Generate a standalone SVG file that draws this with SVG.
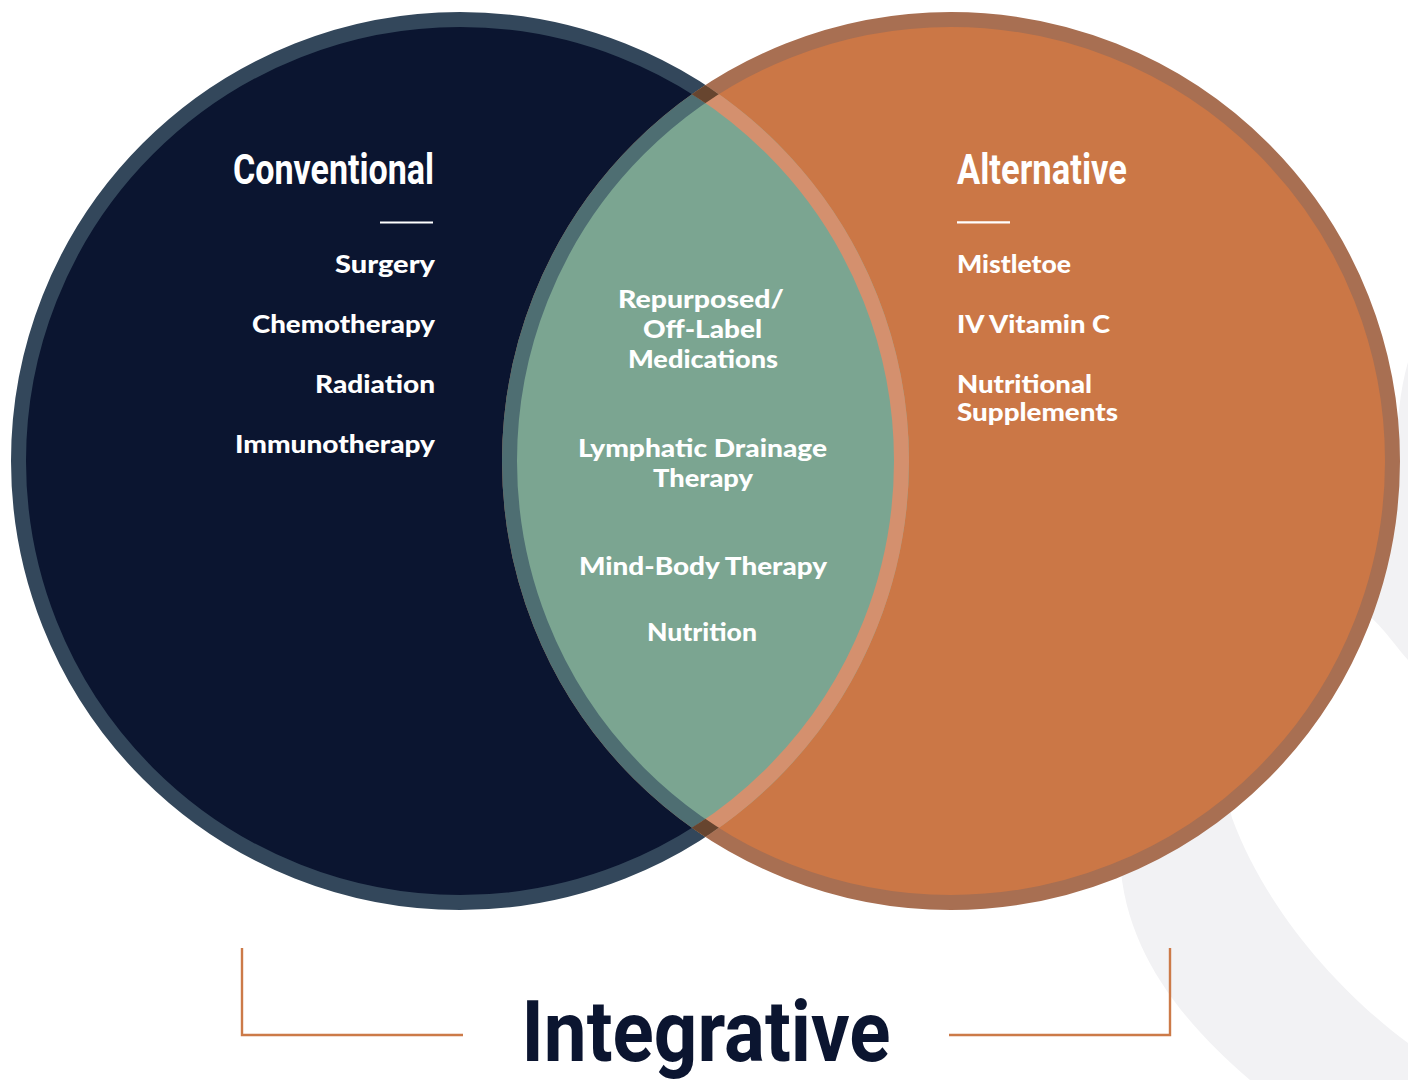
<svg xmlns="http://www.w3.org/2000/svg" width="1408" height="1080" viewBox="0 0 1408 1080">
  <style>
    .title { font-family: Roboto, "Liberation Sans", sans-serif; font-weight: 700; fill: #ffffff; font-size: 42px; }
    .item { font-family: Lato, "Noto Sans", "Liberation Sans", sans-serif; font-weight: 900; fill: #ffffff; font-size: 25px; }
    .big { font-family: Roboto, "Liberation Sans", sans-serif; font-weight: 700; fill: #0b1530; font-size: 86px; }
    .rule { stroke: #ffffff; stroke-width: 2.2; }
    .bracket { fill: none; stroke: #cc7a48; stroke-width: 2.4; }
  </style>
  <defs>
    <clipPath id="leftDisk"><circle cx="460" cy="461" r="449"/></clipPath>
    <clipPath id="rightDisk"><circle cx="951" cy="461" r="449"/></clipPath>
    <clipPath id="leftRing">
      <path clip-rule="evenodd" d="M460 12 A449 449 0 1 0 460 910 A449 449 0 1 0 460 12 Z M460 27 A434 434 0 1 0 460 895 A434 434 0 1 0 460 27 Z"/>
    </clipPath>
  </defs>

  <rect width="1408" height="1080" fill="#ffffff"/>

  <g id="background-swoosh">
    <path fill="#f2f2f4" d="M1408 362 C1400 390 1396 425 1396 470 C1380 650 1200 700 1120 860 C1125 950 1180 1020 1250 1080 L1408 1080 L1408 1043 C1350 1000 1270 920 1232 818 C1210 740 1290 592 1340 600 C1370 606 1390 640 1408 660 Z"/>
  </g>

  <g id="venn">
    <circle cx="460" cy="461" r="441.5" fill="#0b1530" stroke="#33475b" stroke-width="15"/>
    <circle cx="951" cy="461" r="441.5" fill="#cb7746" stroke="#a86f52" stroke-width="15"/>
    <g clip-path="url(#leftDisk)">
      <circle cx="951" cy="461" r="441.5" fill="#7ba591" stroke="#4e6e72" stroke-width="15"/>
    </g>
    <g clip-path="url(#rightDisk)">
      <circle cx="460" cy="461" r="441.5" fill="none" stroke="#d4906e" stroke-width="15"/>
    </g>
    <g clip-path="url(#leftRing)">
      <circle cx="951" cy="461" r="441.5" fill="none" stroke="#67452f" stroke-width="15"/>
    </g>
  </g>

  <g id="conventional">
    <text class="title" x="434" y="184" text-anchor="end" textLength="201" lengthAdjust="spacingAndGlyphs">Conventional</text>
    <line class="rule" x1="380" y1="222.5" x2="433" y2="222.5"/>
    <text class="item" x="435" y="273" text-anchor="end" textLength="100" lengthAdjust="spacingAndGlyphs">Surgery</text>
    <text class="item" x="435" y="333" text-anchor="end" textLength="183" lengthAdjust="spacingAndGlyphs">Chemotherapy</text>
    <text class="item" x="435" y="392.5" text-anchor="end" textLength="120" lengthAdjust="spacingAndGlyphs">Radiation</text>
    <text class="item" x="435" y="453" text-anchor="end" textLength="200" lengthAdjust="spacingAndGlyphs">Immunotherapy</text>
  </g>

  <g id="overlap">
    <text class="item" x="701" y="308" text-anchor="middle" textLength="166" lengthAdjust="spacingAndGlyphs">Repurposed/</text>
    <text class="item" x="702.5" y="338" text-anchor="middle" textLength="119" lengthAdjust="spacingAndGlyphs">Off-Label</text>
    <text class="item" x="703" y="368" text-anchor="middle" textLength="150" lengthAdjust="spacingAndGlyphs">Medications</text>
    <text class="item" x="702.5" y="457" text-anchor="middle" textLength="249" lengthAdjust="spacingAndGlyphs">Lymphatic Drainage</text>
    <text class="item" x="703" y="487" text-anchor="middle" textLength="100" lengthAdjust="spacingAndGlyphs">Therapy</text>
    <text class="item" x="703" y="575" text-anchor="middle" textLength="248" lengthAdjust="spacingAndGlyphs">Mind-Body Therapy</text>
    <text class="item" x="702" y="641" text-anchor="middle" textLength="110" lengthAdjust="spacingAndGlyphs">Nutrition</text>
  </g>

  <g id="alternative">
    <text class="title" x="957" y="184" textLength="170" lengthAdjust="spacingAndGlyphs">Alternative</text>
    <line class="rule" x1="957" y1="222.3" x2="1010" y2="222.3"/>
    <text class="item" x="957" y="273" textLength="114" lengthAdjust="spacingAndGlyphs">Mistletoe</text>
    <text class="item" x="957" y="333" textLength="153" lengthAdjust="spacingAndGlyphs">IV Vitamin C</text>
    <text class="item" x="957" y="393" textLength="135" lengthAdjust="spacingAndGlyphs">Nutritional</text>
    <text class="item" x="957" y="421" textLength="161" lengthAdjust="spacingAndGlyphs">Supplements</text>
  </g>

  <g id="connectors">
    <path class="bracket" d="M242 948 L242 1035 L463 1035"/>
    <path class="bracket" d="M949 1035 L1170 1035 L1170 948"/>
  </g>

  <g id="integrative">
    <text class="big" x="706" y="1061" text-anchor="middle" textLength="369" lengthAdjust="spacingAndGlyphs">Integrative</text>
  </g>
</svg>
